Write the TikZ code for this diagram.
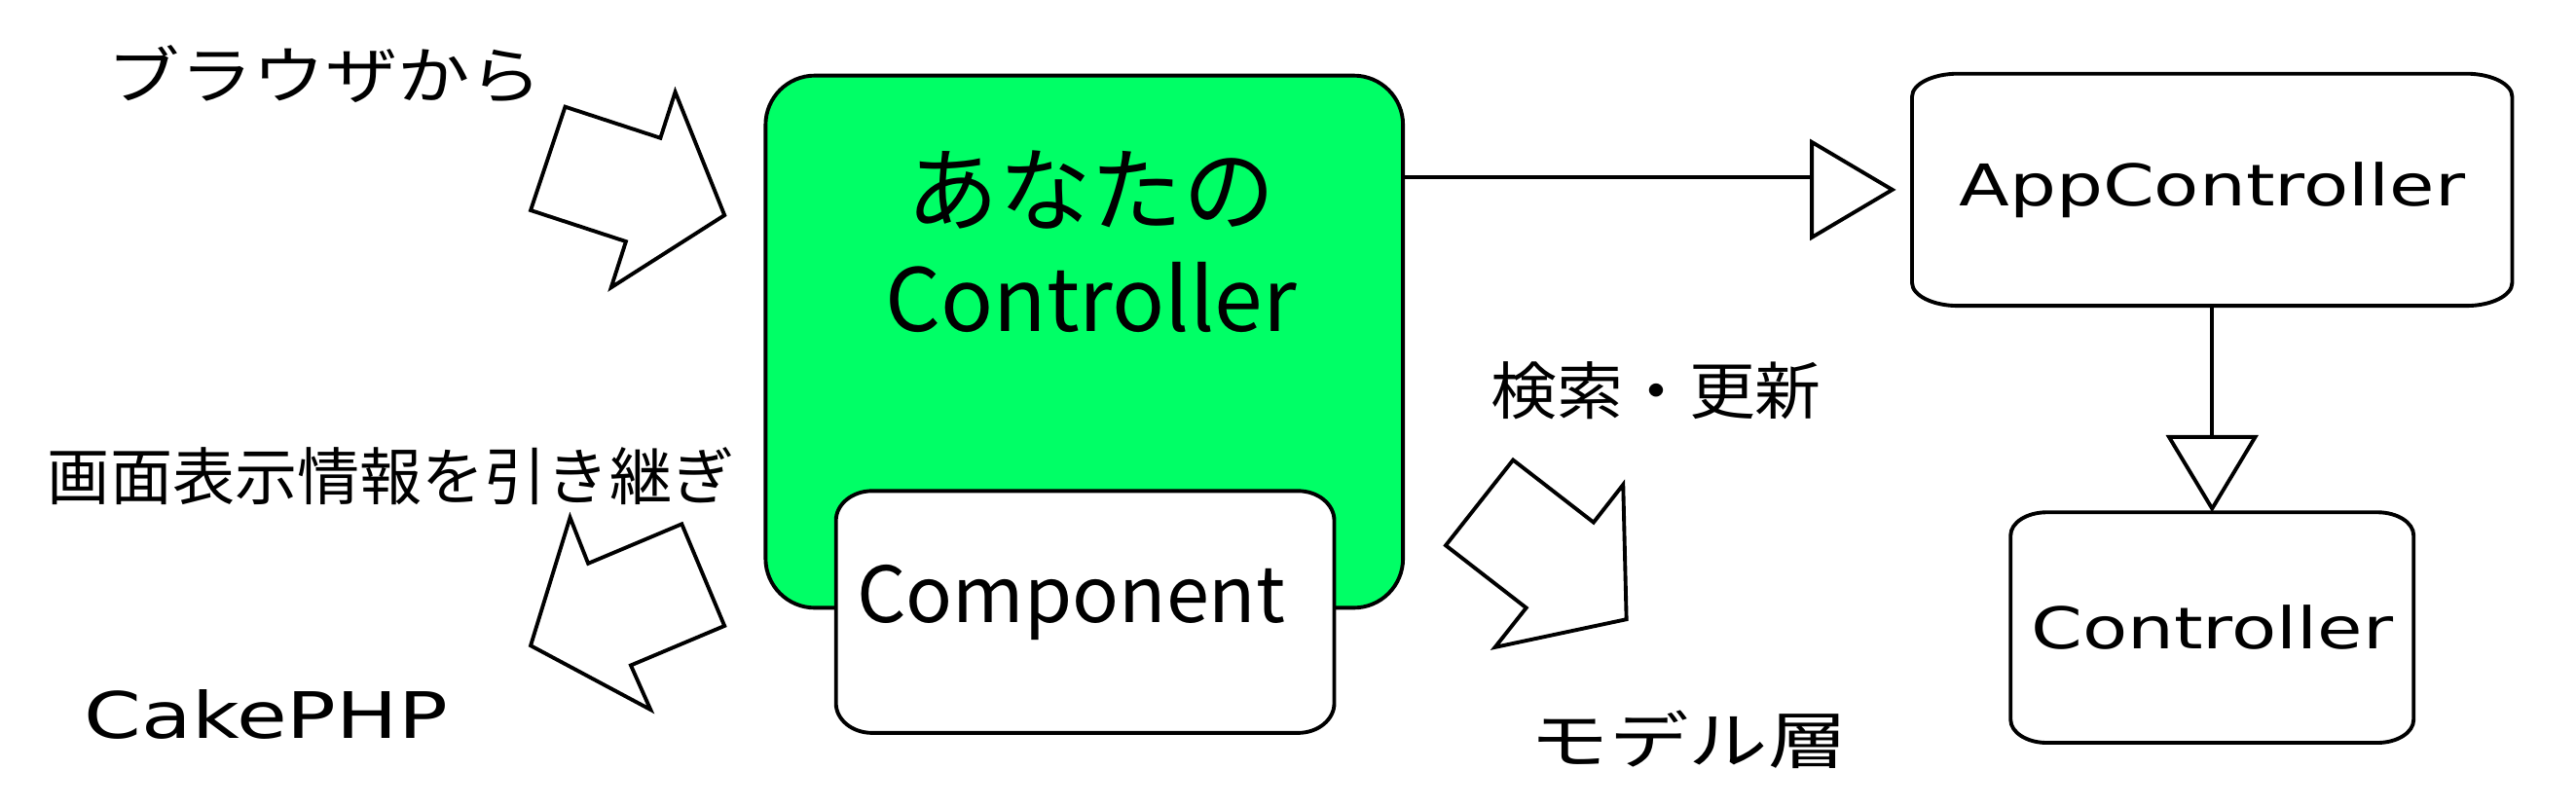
\documentclass[tikz,border=0pt]{standalone}
\usepackage{fontspec}
\usetikzlibrary{arrows.meta}
\newfontfamily\jpfont{Noto Sans CJK JP}
\newfontfamily\widefont[FakeStretch=1.28]{DejaVu Sans}
\definecolor{ctrlgreen}{RGB}{0,255,102}
% rounded box with flat (elliptic) corners round a node
\newcommand{\ovalframe}[4][]{%
  \draw[#1] ([xshift=#3]#2.north west) -- ([xshift=-#3]#2.north east)
    .. controls ([xshift=-0.45*#3]#2.north east) and ([yshift=-0.45*#4]#2.north east) .. ([yshift=-#4]#2.north east)
    -- ([yshift=#4]#2.south east)
    .. controls ([yshift=0.45*#4]#2.south east) and ([xshift=-0.45*#3]#2.south east) .. ([xshift=-#3]#2.south east)
    -- ([xshift=#3]#2.south west)
    .. controls ([xshift=0.45*#3]#2.south west) and ([yshift=0.45*#4]#2.south west) .. ([yshift=#4]#2.south west)
    -- ([yshift=-#4]#2.north west)
    .. controls ([yshift=-0.45*#4]#2.north west) and ([xshift=0.45*#3]#2.north west) .. ([xshift=#3]#2.north west) -- cycle;}
\begin{document}
\begin{tikzpicture}[x=1pt,y=-1pt,line width=2.3pt,
    jp/.style={font=\jpfont\fontsize{38}{44}\selectfont},
    big/.style={font=\jpfont\fontsize{56}{65}\selectfont},
    mid/.style={font=\jpfont\fontsize{47}{56}\selectfont},
    wide/.style={font=\widefont\fontsize{35}{40}\selectfont},
    boxarea/.style 2 args={inner sep=0pt,minimum width=#1,minimum height=#2},
    blockarrow/.style={draw,fill=white},
    inherit/.style={-{Triangle[open,length=47pt,width=56pt]}}]
  \useasboundingbox (0,0) rectangle (1568,491);

  % your controller with its component
  \node[boxarea={388pt}{324pt},draw,fill=ctrlgreen,rounded corners=30pt] (yourctrl) at (660,208) {};
  \node[big,align=center] (yourctrltext) at (664,147) {あなたの\\{\fontsize{53}{65}\selectfont Controller}};
  \node[boxarea={301pt}{145pt}] (comp) at (660.5,372.5) {};
  \ovalframe[fill=white]{comp}{22pt}{18pt}
  \node[mid] (comptext) at (652,367) {Component};

  % class hierarchy
  \node[boxarea={363pt}{139pt},wide] (app) at (1346.5,115.5) {AppController};
  \ovalframe{app}{28pt}{14pt}
  \node[boxarea={243pt}{138pt},wide] (ctrl) at (1346.5,382) {Controller};
  \ovalframe{ctrl}{22pt}{14pt}
  \coordinate (gentip) at ([xshift=-12pt]app.west);
  \draw (yourctrl.east |- 0,108) -- ([xshift=-49pt]gentip |- 0,108);
  \draw[line join=miter] (gentip) -- ++(-49,-29) -- ++(0,58) -- cycle;
  \draw[inherit] (app.south) -- (ctrl.north);

  % block arrows
  \draw[blockarrow] (344,65) -- (402,84) -- (411,56) -- (441,131) -- (372,175) -- (381,147) -- (323,128) -- cycle;
  \draw[blockarrow] (347,315) -- (358,343) -- (415,319) -- (441,381) -- (384,405) -- (396,432) -- (323,393) -- cycle;
  \draw[blockarrow] (921,280) -- (970,318) -- (988,295) -- (990,377) -- (910,394) -- (929,370) -- (880,332) -- cycle;

  \node[jp] (browser) at (198,45) {\addfontfeature{FakeStretch=1.16}ブラウザから};
  \node[jp] (handover) at (238,290) {画面表示情報を引き継ぎ};
  \node[wide,font=\widefont\fontsize{39}{44}\selectfont] (cake) at (162,435) {CakePHP};
  \node[jp] (query) at (1008,238) {\addfontfeature{FakeStretch=1.06}検索・更新};
  \node[jp] (model) at (1028,450) {\addfontfeature{FakeStretch=1.27}モデル層};
\end{tikzpicture}
\end{document}
